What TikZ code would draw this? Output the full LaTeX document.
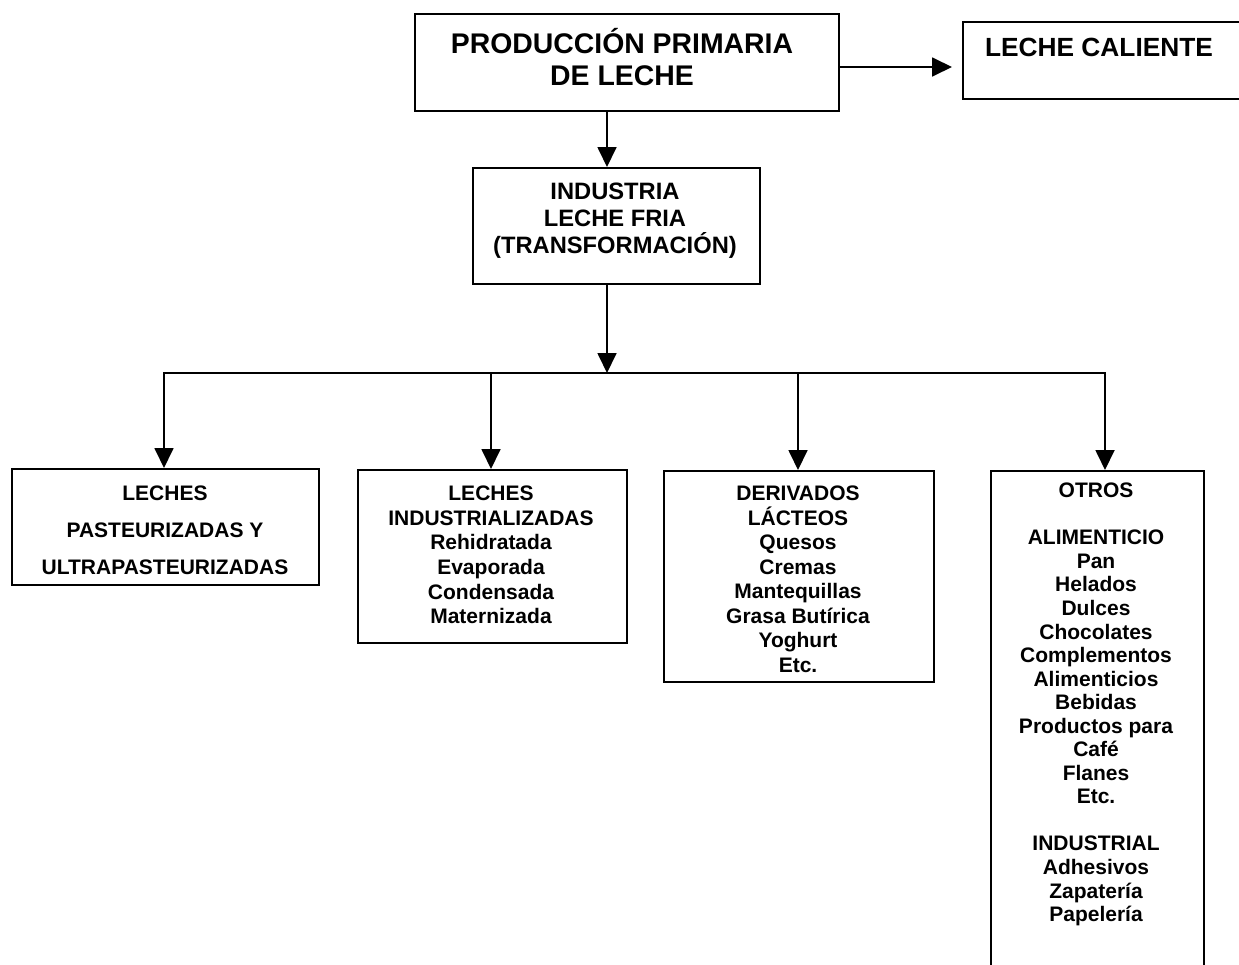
\documentclass[tikz,border=0pt]{standalone}
\usepackage{fontspec}
\setmainfont{Liberation Sans}
\usetikzlibrary{arrows.meta}
\newcommand\flr{\rule{0pt}{30pt}}
\begin{document}
\begin{tikzpicture}[x=1pt,y=-1pt,
  box/.style={draw, line width=1.8pt, inner sep=0pt, anchor=north west},
  txt/.style={anchor=north, inner sep=0pt, align=center},
  ln/.style={line width=1.8pt, line cap=rect},
  arr/.style={line width=1.8pt, -{Triangle[length=20pt,width=19pt]}}]
\clip (0,0) rectangle (1239,964);
% boxes
\node[box, minimum width=424pt, minimum height=97pt] (top) at (414,13) {};
\node[box, minimum width=300pt, minimum height=77pt] (hot) at (962,21) {};
\node[box, minimum width=287pt, minimum height=116pt] (ind) at (472,167) {};
\node[box, minimum width=307pt, minimum height=116pt] (b1) at (11,468) {};
\node[box, minimum width=269pt, minimum height=173pt] (b2) at (357,469) {};
\node[box, minimum width=270pt, minimum height=211pt] (b3) at (663,470) {};
\node[box, minimum width=213pt, minimum height=520pt] (b4) at (990,470) {};
% texts
\node[txt, font=\fontsize{28.4}{32}\selectfont\bfseries] (ttop) at (622,23)
  {\flr PRODUCCIÓN PRIMARIA\\DE LECHE};
\node[txt, font=\fontsize{26.3}{30}\selectfont\bfseries] (thot) at (1099,26.7)
  {\flr LECHE CALIENTE};
\node[txt, font=\fontsize{23.7}{26.8}\selectfont\bfseries] (tind) at (615,169.3)
  {\flr INDUSTRIA\\LECHE FRIA\\(TRANSFORMACIÓN)};
\node[txt, font=\fontsize{21}{37}\selectfont\bfseries] (tb1) at (165,470.5)
  {\flr LECHES\\PASTEURIZADAS Y\\ULTRAPASTEURIZADAS};
\node[txt, font=\fontsize{21}{24.6}\selectfont\bfseries] (tb2) at (491,470.5)
  {\flr LECHES\\INDUSTRIALIZADAS\\Rehidratada\\Evaporada\\Condensada\\Maternizada};
\node[txt, font=\fontsize{21}{24.5}\selectfont\bfseries] (tb3) at (798,470.5)
  {\flr DERIVADOS\\LÁCTEOS\\Quesos\\Cremas\\Mantequillas\\Grasa Butírica\\Yoghurt\\Etc.};
\node[txt, font=\fontsize{21}{23.55}\selectfont\bfseries] (tb4) at (1096,467.5)
  {\flr OTROS\\ \\ALIMENTICIO\\Pan\\Helados\\Dulces\\Chocolates\\Complementos\\Alimenticios\\Bebidas\\Productos para\\Café\\Flanes\\Etc.\\ \\INDUSTRIAL\\Adhesivos\\Zapatería\\Papelería};
% connector points
\coordinate (ha) at (952,67);
\coordinate (hub) at (607,373);
\coordinate (j1) at (164,373);
\coordinate (j2) at (491,373);
\coordinate (j3) at (798,373);
\coordinate (j4) at (1105,373);
% connectors
\draw[arr] (top.east |- ha) -- (ha);
\draw[arr] (top.south -| hub) -- (ind.north -| hub);
\draw[arr] (ind.south -| hub) -- (hub);
\draw[ln] (j1) -- (j4);
\draw[arr] (j1) -- (j1 |- b1.north);
\draw[arr] (j2) -- (j2 |- b2.north);
\draw[arr] (j3) -- (j3 |- b3.north);
\draw[arr] (j4) -- (j4 |- b4.north);
\end{tikzpicture}
\end{document}
